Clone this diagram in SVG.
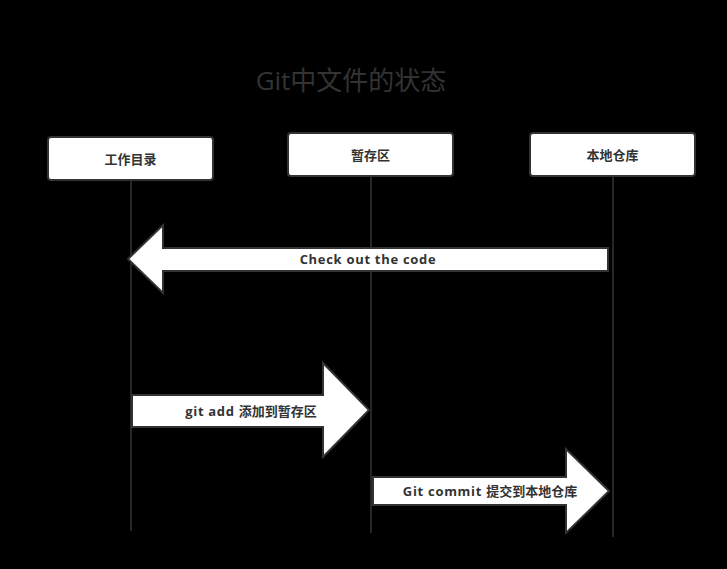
<svg xmlns="http://www.w3.org/2000/svg" width="727" height="569" viewBox="0 0 727 569">
<style>
.bg{fill:#000}
.node rect{fill:#fff;stroke:#333;stroke-width:2}
.node text{font-family:"Open Sans","Noto Sans CJK SC",sans-serif;font-weight:bold;font-size:13px;fill:#333;text-anchor:middle;dominant-baseline:central}
.life{stroke:#333;stroke-width:1.5;fill:none}
.arrow{fill:#fff;stroke:#333;stroke-width:2;stroke-linejoin:miter}
.lbl{font-family:"Open Sans","Noto Sans CJK SC",sans-serif;font-weight:bold;font-size:13px;fill:#333;text-anchor:middle;dominant-baseline:central}
.lat{letter-spacing:0.7px}
.title{font-family:"Open Sans","Noto Sans CJK SC",sans-serif;font-size:26px;fill:#333;text-anchor:middle;dominant-baseline:central}
</style>
<rect class="bg" x="0" y="0" width="727" height="569"/>
<text class="title" x="351" y="80">Git中文件的状态</text>
<g id="lifelines">
<line class="life" x1="131" y1="180" x2="131" y2="531"/>
<line class="life" x1="371" y1="176" x2="371" y2="533"/>
<line class="life" x1="613" y1="177" x2="613" y2="537"/>
</g>
<g id="n1" class="node"><rect x="48" y="137" width="165" height="43" rx="3"/><text x="130.5" y="158.5">工作目录</text></g>
<g id="n2" class="node"><rect x="288" y="133" width="165" height="43" rx="3"/><text x="370.5" y="154.5">暂存区</text></g>
<g id="n3" class="node"><rect x="530" y="133" width="165" height="43" rx="3"/><text x="612.5" y="154.5">本地仓库</text></g>
<g id="connectors">
<g id="e1"><path class="arrow" d="M608,248 L163,248 L163,225 L128,259 L163,293 L163,271 L608,271 Z"/><text class="lbl lat" x="368" y="259">Check out the code</text></g>
<g id="e2"><path class="arrow" d="M132,395 L323,395 L323,363 L369,410 L323,457 L323,427 L132,427 Z"/><text class="lbl" x="251" y="411"><tspan class="lat">git add </tspan>添加到暂存区</text></g>
<g id="e3"><path class="arrow" d="M373,477 L566,477 L566,449 L609,491 L566,533 L566,505 L373,505 Z"/><text class="lbl" x="490" y="491"><tspan class="lat">Git commit </tspan>提交到本地仓库</text></g>
</g>
</svg>
